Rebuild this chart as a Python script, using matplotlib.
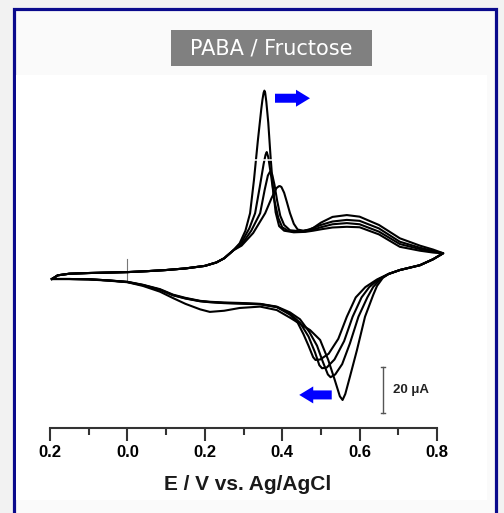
import matplotlib
matplotlib.use("Agg")
import matplotlib.pyplot as plt
from matplotlib.patches import Rectangle

plt.rcParams['font.family'] = ['Liberation Sans', 'DejaVu Sans']

# ---------------- data (E in V vs Ag/AgCl, I in microampere) ----------------
E_A = [-0.195, -0.18, -0.15, -0.1, -0.05, 0.0, 0.05, 0.1, 0.15, 0.2, 0.23, 0.25, 0.274,
       0.29, 0.305, 0.317, 0.327, 0.337, 0.346, 0.349, 0.352, 0.354, 0.356, 0.359, 0.364, 0.370,
       0.376, 0.383, 0.392, 0.405, 0.43, 0.46, 0.48, 0.5, 0.53, 0.567, 0.6, 0.65, 0.704, 0.756,
       0.79, 0.816,
       0.79, 0.756, 0.704, 0.675, 0.66, 0.645, 0.635, 0.614, 0.593, 0.575, 0.563, 0.556, 0.549,
       0.536, 0.519, 0.498, 0.472, 0.446, 0.42, 0.386, 0.343, 0.29, 0.25, 0.213, 0.188, 0.15,
       0.118, 0.084, 0.04, 0.0, -0.05, -0.1, -0.15, -0.195]
I_A = [0.0, 1.6, 2.3, 2.6, 2.8, 3.0, 3.4, 3.9, 4.6, 5.7, 7.2, 9.0, 12.5,
       15.5, 21, 28.6, 43, 60, 74, 78, 81, 81.9, 81, 77, 68, 53,
       40, 29, 23, 21, 20.3, 20.5, 21, 21.6, 22.4, 22.7, 22.5, 19.4, 14.0, 12.3,
       11.5, 11.2,
       8.6, 6.0, 3.9, 2.2, 0.5, -3, -7, -16.4, -31, -42.5, -50, -52.6, -51,
       -44, -35.2, -26.5, -22.2, -19.5, -16.8, -13.5, -12, -12.6, -13.8, -14.3, -13.2, -10.8,
       -8.3, -5.5, -3.0, -1.4, -0.7, -0.2, 0.0, 0.0]

E_B = [-0.195, -0.18, -0.15, -0.1, -0.05, 0.0, 0.05, 0.1, 0.15, 0.2, 0.23, 0.25, 0.274,
       0.295, 0.315, 0.33, 0.342, 0.352, 0.357, 0.36, 0.364, 0.372, 0.38, 0.39, 0.40, 0.415,
       0.44, 0.47, 0.5, 0.53, 0.567, 0.6, 0.65, 0.704, 0.756, 0.79, 0.816,
       0.79, 0.756, 0.704, 0.675, 0.655, 0.635, 0.62, 0.597, 0.575, 0.555, 0.537, 0.525, 0.518,
       0.505, 0.49, 0.47, 0.446, 0.42, 0.386, 0.343, 0.29, 0.25, 0.213, 0.188, 0.15, 0.118,
       0.084, 0.04, 0.0, -0.05, -0.1, -0.15, -0.195]
I_B = [0.0, 1.6, 2.3, 2.6, 2.8, 3.0, 3.4, 3.9, 4.6, 5.7, 7.2, 9.0, 12.5,
       16, 22, 28.6, 40, 50, 54, 55.2, 53, 44, 34, 26.5, 22.5, 21,
       20.5, 21, 22.5, 23.8, 24.3, 23.8, 20.6, 15.2, 13.0, 11.8, 11.2,
       8.6, 6.0, 3.9, 2.2, 0.2, -3.5, -8, -16.4, -28, -37, -41.5, -42.7, -41.5,
       -36, -29, -23, -17.5, -14.5, -12, -10.8, -10.4, -10.2, -9.9, -9.5, -8.2, -6.8,
       -4.4, -2.5, -1.2, -0.6, -0.1, 0.0, 0.0]

E_C = [-0.195, -0.18, -0.15, -0.1, -0.05, 0.0, 0.05, 0.1, 0.15, 0.2, 0.23, 0.25, 0.274,
       0.295, 0.32, 0.343, 0.355, 0.363, 0.368, 0.370, 0.374, 0.38, 0.387, 0.395, 0.405, 0.42,
       0.45, 0.47, 0.5, 0.53, 0.567, 0.6, 0.65, 0.704, 0.756, 0.79, 0.816,
       0.79, 0.756, 0.704, 0.675, 0.65, 0.625, 0.605, 0.582, 0.56, 0.535, 0.515, 0.503, 0.496,
       0.485, 0.468, 0.446, 0.42, 0.386, 0.343, 0.29, 0.25, 0.213, 0.188, 0.15, 0.118, 0.084,
       0.04, 0.0, -0.05, -0.1, -0.15, -0.195]
I_C = [0.0, 1.6, 2.3, 2.6, 2.8, 3.0, 3.4, 3.9, 4.6, 5.7, 7.2, 9.0, 12.5,
       15, 21, 28.6, 39, 45, 46.5, 46.7, 45.5, 41, 34, 27.5, 23.5, 21.2,
       20.7, 21.5, 23.5, 25.0, 25.7, 25.3, 22.0, 16.2, 13.6, 12.2, 11.2,
       8.6, 6.0, 3.9, 2.2, 0.0, -3.5, -8, -16.4, -27, -35, -38.5, -38.8, -37.5,
       -32, -25, -19, -15, -12.2, -10.9, -10.6, -10.4, -10.0, -9.6, -8.4, -7.0, -4.6,
       -2.6, -1.3, -0.6, -0.1, 0.0, 0.0]

E_D = [-0.195, -0.18, -0.15, -0.1, -0.05, 0.0, 0.05, 0.1, 0.15, 0.2, 0.23, 0.25, 0.274,
       0.295, 0.325, 0.356, 0.372, 0.385, 0.391, 0.394, 0.398, 0.405, 0.412, 0.42, 0.43, 0.44,
       0.455, 0.47, 0.48, 0.5, 0.53, 0.567, 0.6, 0.65, 0.704, 0.756, 0.79, 0.816,
       0.79, 0.756, 0.704, 0.675, 0.645, 0.615, 0.59, 0.567, 0.545, 0.52, 0.498, 0.486, 0.48,
       0.468, 0.455, 0.44, 0.42, 0.386, 0.343, 0.29, 0.25, 0.213, 0.188, 0.15, 0.118, 0.084,
       0.04, 0.0, -0.05, -0.1, -0.15, -0.195]
I_D = [0.0, 1.6, 2.3, 2.6, 2.8, 3.0, 3.4, 3.9, 4.6, 5.7, 7.2, 9.0, 12.5,
       14.5, 20, 28.6, 35, 39.5, 40.3, 40.4, 40, 37.5, 33.5, 28.7, 24, 21.5,
       21, 21.5, 22.2, 24.5, 27, 27.8, 27.1, 23.5, 17.7, 14.5, 12.8, 11.2,
       8.6, 6.0, 3.9, 2.2, -0.2, -3.5, -8, -16.4, -26, -32.5, -35, -35.2, -34,
       -29, -24, -19, -15.5, -12.2, -11.0, -10.7, -10.5, -10.1, -9.7, -8.5, -7.1, -4.7,
       -2.7, -1.3, -0.6, -0.1, 0.0, 0.0]

curves = [(E_A, I_A), (E_B, I_B), (E_C, I_C), (E_D, I_D)]

x_ticks = [-0.2, 0.0, 0.2, 0.4, 0.6, 0.8]
x_tick_labels = ['0.2', '0.0', '0.2', '0.4', '0.6', '0.8']
x_minor = [-0.1, 0.1, 0.3, 0.5, 0.7]

title_text = 'PABA / Fructose'
x_label = 'E / V vs. Ag/AgCl'
scale_value = 20          # microampere
scale_label = '20 \u03bcA'

# ---------------- figure ----------------
W, H = 504, 513
fig = plt.figure(figsize=(W / 100, H / 100), dpi=100, facecolor='#f2f2f2')

# panel with navy frame
fig.patches.append(Rectangle((13.5 / W, -0.05), (496 - 13.5) / W, 1.05 - 8.5 / H,
                             transform=fig.transFigure, facecolor='#fafafa',
                             edgecolor='#0a0a8c', linewidth=2.3, zorder=-3))
fig.patches.append(Rectangle((16 / W, 1 - 500 / H), (487 - 16) / W, (500 - 75) / H,
                             transform=fig.transFigure, facecolor='white',
                             edgecolor='none', zorder=-2))

# title box
fig.patches.append(Rectangle((171 / W, 1 - 66 / H), (372 - 171) / W, 36 / H,
                             transform=fig.transFigure, facecolor='#808080',
                             edgecolor='none', zorder=-1))
fig.text(271.5 / W, 1 - 48.5 / H, title_text, ha='center', va='center', color='white',
         fontsize=15, family=['DejaVu Sans'], zorder=2)

# axes: E=-0.2 -> px 50, E=0.8 -> px 437 ; I=0 -> py 279, 2.3 px per uA
xl = (-0.22, 0.84)
px_per_V = 387.0
ax_left = 50 - 0.02 * px_per_V
ax_w = (xl[1] - xl[0]) * px_per_V
yl = (-64.78, 105.0)
ax_bottom_px = 428
ax_h = (yl[1] - yl[0]) * 2.3
ax = fig.add_axes([ax_left / W, (H - ax_bottom_px) / H, ax_w / W, ax_h / H])
ax.set_facecolor('none')
ax.set_zorder(1)
ax.set_xlim(*xl)
ax.set_ylim(*yl)

for E, I in curves:
    ax.plot(E, I, color='black', lw=1.5, solid_joinstyle='round', clip_on=False, zorder=3)

# white gap artefact across the peaks
ax.plot([0.325, 0.38], [51.7, 51.7], color='white', lw=1.1, zorder=4)

# zero-current marker
ax.plot([0.0, 0.0], [8.7, -1.3], color='#777777', lw=0.8, zorder=2)

# spines / ticks
for s in ['left', 'top', 'right']:
    ax.spines[s].set_visible(False)
ax.spines['bottom'].set_bounds(-0.2, 0.8)
ax.spines['bottom'].set_linewidth(1.5)
ax.spines['bottom'].set_color('#333333')
ax.set_yticks([])
ax.set_xticks(x_ticks)
ax.set_xticklabels(x_tick_labels, fontsize=12, fontweight='bold')
ax.set_xticks(x_minor, minor=True)
ax.tick_params(axis='x', which='major', direction='out', length=9.5, width=1.5,
               color='#333333', pad=3)
ax.tick_params(axis='x', which='minor', direction='out', length=5, width=1.5, color='#333333')

fig.text(247.5 / W, 1 - 485 / H, x_label, ha='center', va='center', fontsize=15,
         fontweight='bold', color='#1a1a1a')

# scale bar
sb_E = 0.6605
sb_I0 = -58.26
ax.plot([sb_E, sb_E], [sb_I0, sb_I0 + scale_value], color='#555555', lw=1.0, zorder=3)
ax.plot([sb_E - 0.006, sb_E + 0.006], [sb_I0, sb_I0], color='#555555', lw=1.0, zorder=3)
ax.plot([sb_E - 0.006, sb_E + 0.006], [sb_I0 + scale_value, sb_I0 + scale_value],
        color='#555555', lw=1.0, zorder=3)
ax.text(0.686, sb_I0 + scale_value / 2, scale_label, ha='left', va='center',
        fontsize=9.5, fontweight='bold', color='#222222')

# scan-direction arrows
arrow_style = 'simple,head_length=0.7,head_width=0.85,tail_width=0.45'
ax.annotate('', xy=(0.4718, 78.6), xytext=(0.3814, 78.6),
            arrowprops=dict(arrowstyle=arrow_style, color='#0000ff', lw=0,
                            shrinkA=0, shrinkB=0, mutation_scale=14.4))
ax.annotate('', xy=(0.444, -50.4), xytext=(0.528, -50.4),
            arrowprops=dict(arrowstyle=arrow_style, color='#0000ff', lw=0,
                            shrinkA=0, shrinkB=0, mutation_scale=14.4))

fig.savefig('out.png', dpi=100, facecolor=fig.get_facecolor())
